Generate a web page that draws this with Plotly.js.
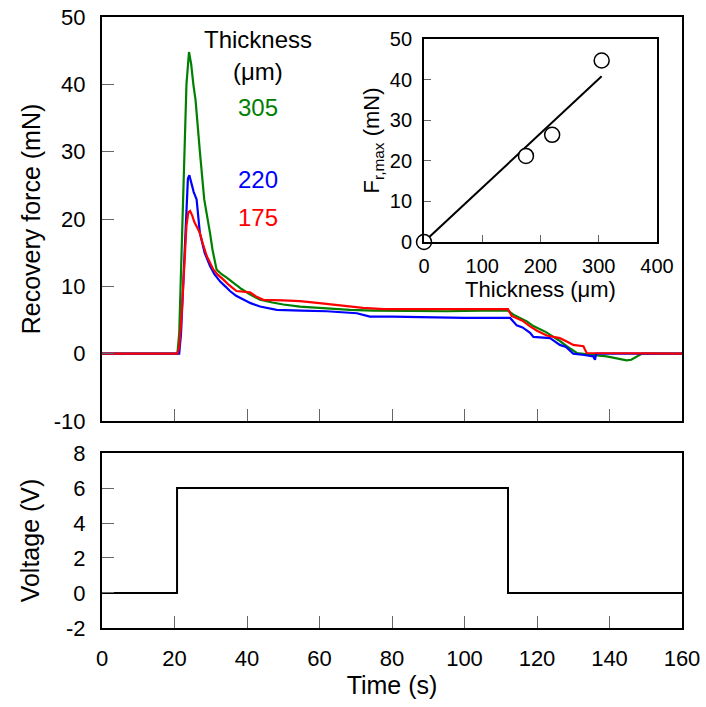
<!DOCTYPE html>
<html>
<head>
<meta charset="utf-8">
<script src="https://cdn.plot.ly/plotly-3.0.1.min.js"></script>
<style>html,body{margin:0;padding:0;background:#fff;}#chart{width:706px;height:707px;}</style>
</head>
<body>
<div id="chart"></div>
<script>
// Recovery force traces (time in s, force in mN)
const t305 = [0, 20.8, 21.3, 22.0, 22.7, 23.3, 24.0, 24.6, 25.2, 25.8, 27.0, 28.2, 29.8, 30.5, 31.6, 33.0, 34.4, 36.2, 38.5, 40.8, 43.6, 47, 50, 54.6, 60, 68.4, 75, 85, 95, 105, 112, 113.5, 115, 117.2, 119, 120.8, 122.5, 124.5, 126, 128.2, 129.5, 131, 134, 137, 139.2, 142, 144.7, 146, 147.5, 149, 160];
const f305 = [0, 0, 3, 15, 30, 40, 44.8, 43, 40, 37.7, 30, 22.9, 17.9, 15.4, 12.5, 11.8, 11.3, 10.5, 9.6, 8.8, 8.0, 7.6, 7.3, 7.0, 6.8, 6.5, 6.4, 6.3, 6.3, 6.4, 6.4, 5.8, 5.4, 4.8, 4.1, 3.6, 3.2, 2.5, 2.0, 1.1, 0.6, 0.1, -0.1, -0.3, -0.4, -0.7, -1.0, -0.9, -0.4, 0, 0];

const t220 = [0, 21.3, 21.8, 22.5, 23.2, 23.7, 24.1, 24.6, 25.3, 26.1, 27.0, 28.3, 29.8, 31.0, 32.6, 34.0, 35.3, 37.0, 39.0, 41.0, 43.6, 46.0, 48.2, 55, 62, 70.3, 73.9, 80, 90, 100, 112.6, 114.4, 116, 118.1, 119, 121, 123.6, 125, 126.3, 128, 130, 133, 135.5, 136, 136.3, 160];
const f220 = [0, 0, 3, 12, 22, 26, 26.5, 25.5, 24, 22.9, 17.9, 15, 13, 11.8, 10.7, 10, 9.3, 8.6, 8.0, 7.5, 7.0, 6.7, 6.5, 6.4, 6.3, 6.0, 5.5, 5.5, 5.4, 5.3, 5.3, 4.2, 3.9, 3.1, 2.5, 2.4, 2.3, 1.8, 1.3, 1.0, 0, -0.2, -0.4, -0.9, 0, 0];

const t175 = [0, 20.8, 21.3, 22.0, 22.7, 23.3, 23.8, 24.3, 24.9, 25.5, 26.2, 27.0, 28.0, 28.9, 30.7, 32.0, 33.5, 35.0, 37.1, 38.5, 40.8, 42.5, 44.5, 50, 54.6, 60, 68.4, 72, 77.6, 112, 113, 114.4, 116, 118, 120, 122.7, 124.5, 126.3, 128.2, 130, 132.8, 133.7, 160];
const f175 = [0, 0, 1, 6, 13, 19, 21, 21.2, 20.5, 19.5, 18.8, 17.9, 16, 14.5, 12.5, 11.7, 11.0, 10.2, 9.3, 9.2, 9.1, 8.5, 8.0, 7.9, 7.8, 7.5, 7.0, 6.8, 6.6, 6.6, 5.6, 5.3, 4.9, 4.1, 3.4, 2.7, 2.5, 2.3, 1.8, 1.3, 1.1, 0.1, 0];

// Voltage
const tVolt = [0, 20.7, 20.7, 112, 112, 160];
const vVolt = [0, 0, 6, 6, 0, 0];

// Inset: peak force vs thickness
const thickness = [0, 175, 220, 305];
const fmax = [0, 21.2, 26.4, 44.7];
const fitX = [0, 305];
const fitY = [0, 40.8];

// Tick labels
const forceTicks = [-10, 0, 10, 20, 30, 40, 50];
const forceTickText = ['-10', '0', '10', '20', '30', '40', '50'];
const voltTicks = [-2, 0, 2, 4, 6, 8];
const voltTickText = ['-2', '0', '2', '4', '6', '8'];

// Labels
const labelTexts = ['Thickness', '(μm)', '305', '220', '175'];
const labelY = [46.6, 41.9, 36.5, 25.8, 20.2];
const labelColors = ['#000000', '#000000', '#008000', '#0000ff', '#ff0000'];

const FONT = 'Liberation Sans, Arial, sans-serif';

const traces = [
  {x: t305, y: f305, type: 'scatter', mode: 'lines', line: {color: '#008000', width: 2.2}, xaxis: 'x', yaxis: 'y'},
  {x: t220, y: f220, type: 'scatter', mode: 'lines', line: {color: '#0000ff', width: 2.2}, xaxis: 'x', yaxis: 'y'},
  {x: t175, y: f175, type: 'scatter', mode: 'lines', line: {color: '#ff0000', width: 2.2}, xaxis: 'x', yaxis: 'y'},
  {x: tVolt, y: vVolt, type: 'scatter', mode: 'lines', line: {color: '#000000', width: 2}, xaxis: 'x2', yaxis: 'y2'},
  {x: fitX, y: fitY, type: 'scatter', mode: 'lines', line: {color: '#000000', width: 2}, xaxis: 'x3', yaxis: 'y3'},
  {x: thickness, y: fmax, type: 'scatter', mode: 'markers', cliponaxis: false,
   marker: {symbol: 'circle', size: 15, color: '#ffffff', line: {color: '#000000', width: 1.5}}, xaxis: 'x3', yaxis: 'y3'}
];

const axBase = {showline: true, linecolor: '#000', linewidth: 2, mirror: true, showgrid: false, zeroline: false,
  ticks: 'inside', tickcolor: '#666', tickwidth: 1, tickfont: {family: FONT, size: 22, color: '#000'}};

const annotations = labelTexts.map((s, i) => ({
  text: s, x: 43, y: labelY[i], xref: 'x', yref: 'y', showarrow: false,
  font: {family: FONT, size: 24, color: labelColors[i]}, xanchor: 'center', yanchor: 'middle'
}));

const layout = {
  width: 706, height: 707,
  margin: {l: 102, r: 24, t: 17, b: 79},
  paper_bgcolor: '#fff', plot_bgcolor: 'rgba(0,0,0,0)',
  showlegend: false,
  font: {family: FONT, color: '#000'},
  xaxis: Object.assign({}, axBase, {range: [0, 160], tickvals: [20, 40, 60, 80, 100, 120, 140], showticklabels: false, ticklen: 12, anchor: 'y'}),
  yaxis: Object.assign({}, axBase, {domain: [0.3388, 1], range: [-10, 50], tickvals: forceTicks, ticktext: forceTickText, ticklen: 12, anchor: 'x',
    ticklabelstandoff: 10,
    title: {text: 'Recovery force (mN)', font: {family: FONT, size: 25}, standoff: 6}}),
  xaxis2: Object.assign({}, axBase, {range: [0, 160], dtick: 20, tick0: 0, ticklen: 12, anchor: 'y2',
    ticklabelstandoff: 10,
    title: {text: 'Time (s)', font: {family: FONT, size: 25}, standoff: 4}}),
  yaxis2: Object.assign({}, axBase, {domain: [0, 0.2864], range: [-2, 8], tickvals: voltTicks, ticktext: voltTickText, ticklen: 12, anchor: 'x2',
    ticklabelstandoff: 10,
    title: {text: 'Voltage (V)', font: {family: FONT, size: 25}, standoff: 19}}),
  xaxis3: Object.assign({}, axBase, {domain: [0.5552, 0.9569], range: [0, 400], ticklen: 7, anchor: 'y3',
    tickvals: [0, 100, 200, 300, 400],
    tickfont: {family: FONT, size: 20, color: '#000'},
    ticklabelstandoff: 5,
    title: {text: 'Thickness (μm)', font: {family: FONT, size: 22}, standoff: 4}}),
  yaxis3: Object.assign({}, axBase, {domain: [0.6318, 0.964], range: [0, 50], dtick: 10, tick0: 0, ticklen: 7, anchor: 'x3',
    tickfont: {family: FONT, size: 20, color: '#000'},
    ticklabelstandoff: 6,
    title: {text: 'F<sub>r,max</sub> (mN)', font: {family: FONT, size: 22}, standoff: 4}}),
  annotations: annotations
};

Plotly.newPlot('chart', traces, layout, {staticPlot: true, displayModeBar: false});
</script>
</body>
</html>
